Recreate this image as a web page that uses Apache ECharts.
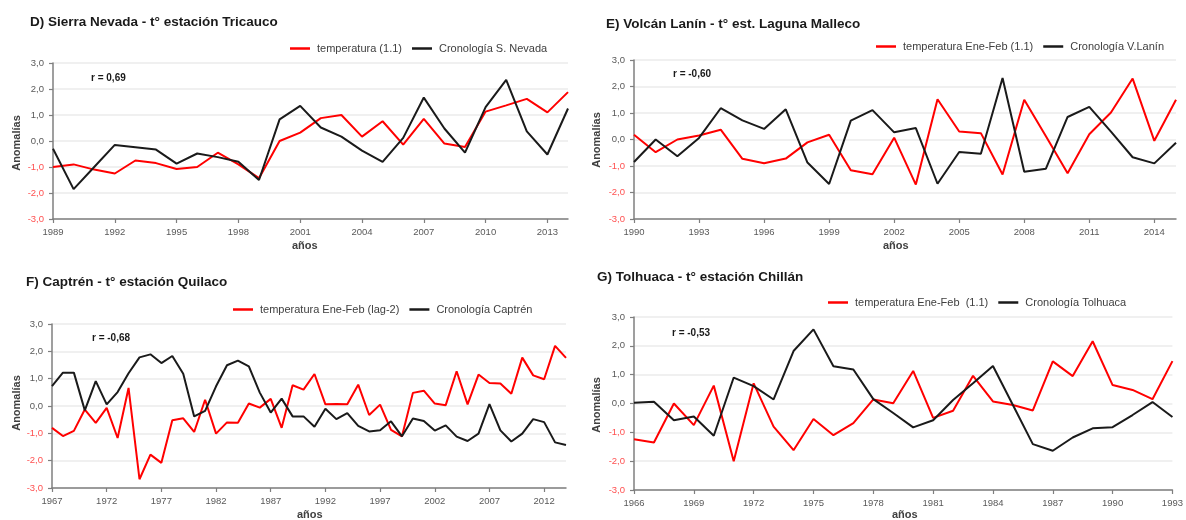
<!DOCTYPE html>
<html>
<head>
<meta charset="utf-8">
<script src="https://cdn.jsdelivr.net/npm/echarts@6/dist/echarts.min.js"></script>
<style>
html,body{margin:0;padding:0;background:#fff;}
#c{width:1186px;height:520px;}
</style>
</head>
<body>
<div id="c"></div>
<script>
// ---------- DATA ----------
function range(a, b) { var r = []; for (var y = a; y <= b; y++) r.push(String(y)); return r; }

var yearsD = range(1989, 2014);
var tempD = [-1.0, -0.9, -1.1, -1.25, -0.75, -0.85, -1.08, -1.0, -0.45, -0.9, -1.43, 0.0,
             0.32, 0.88, 1.0, 0.17, 0.76, -0.14, 0.85, -0.1, -0.23, 1.13, 1.37, 1.62, 1.1, 1.88];
var cronD = [-0.3, -1.85, -1.0, -0.15, -0.24, -0.33, -0.87, -0.48, -0.62, -0.8, -1.5, 0.83,
             1.35, 0.52, 0.17, -0.37, -0.8, 0.12, 1.67, 0.48, -0.45, 1.3, 2.35, 0.37, -0.52, 1.25];

var yearsE = range(1990, 2015);
var tempE = [0.18, -0.48, 0.0, 0.15, 0.37, -0.73, -0.9, -0.72, -0.11, 0.18, -1.16, -1.31,
             0.07, -1.7, 1.52, 0.3, 0.24, -1.32, 1.5, 0.12, -1.27, 0.2, 1.02, 2.3, -0.05, 1.5];
var cronE = [-0.85, 0.0, -0.63, 0.06, 1.18, 0.72, 0.4, 1.14, -0.87, -1.68, 0.71, 1.11,
             0.27, 0.43, -1.67, -0.47, -0.54, 2.32, -1.22, -1.1, 0.85, 1.23, 0.3, -0.67, -0.9, -0.12];

var yearsF = range(1967, 2014);
var tempF = [-0.8, -1.1, -0.91, -0.13, -0.62, -0.07, -1.17, 0.66, -2.68, -1.78, -2.08, -0.52,
             -0.45, -0.95, 0.23, -1.01, -0.6, -0.61, 0.09, -0.06, 0.26, -0.8, 0.76, 0.6,
             1.17, 0.06, 0.07, 0.06, 0.78, -0.33, 0.05, -0.87, -1.11, 0.48, 0.56, 0.09,
             0.03, 1.27, 0.06, 1.15, 0.84, 0.82, 0.45, 1.77, 1.12, 0.98, 2.2, 1.76];
var cronF = [0.73, 1.22, 1.22, -0.16, 0.91, 0.06, 0.51, 1.2, 1.78, 1.89, 1.57, 1.83,
             1.18, -0.38, -0.18, 0.72, 1.49, 1.66, 1.45, 0.49, -0.24, 0.27, -0.38, -0.38,
             -0.76, -0.1, -0.48, -0.26, -0.73, -0.93, -0.89, -0.56, -1.11, -0.46, -0.55, -0.9,
             -0.71, -1.12, -1.28, -1.01, 0.07, -0.89, -1.3, -1.01, -0.48, -0.59, -1.33, -1.43];

var yearsG = range(1966, 1993);
var tempG = [-1.24, -1.35, 0.0, -0.75, 0.62, -2.0, 0.7, -0.8, -1.62, -0.54, -1.1, -0.68,
             0.14, 0.01, 1.13, -0.5, -0.25, 0.96, 0.07, -0.05, -0.24, 1.46, 0.95, 2.16,
             0.64, 0.47, 0.15, 1.47];
var cronG = [0.03, 0.06, -0.58, -0.45, -1.12, 0.9, 0.6, 0.14, 1.82, 2.57, 1.29, 1.18,
             0.15, -0.33, -0.83, -0.58, 0.12, 0.7, 1.3, -0.05, -1.41, -1.64, -1.18, -0.86,
             -0.82, -0.4, 0.05, -0.47];

var panels = [
  { title: 'D) Sierra Nevada - t° estación Tricauco', r: 'r = 0,69',
    tempName: 'temperatura (1.1)', cronName: 'Cronología S. Nevada',
    years: yearsD, temp: tempD, cron: cronD, step: 3 },
  { title: 'E) Volcán Lanín - t° est. Laguna Malleco', r: 'r = -0,60',
    tempName: 'temperatura Ene-Feb (1.1)', cronName: 'Cronología V.Lanín',
    years: yearsE, temp: tempE, cron: cronE, step: 3 },
  { title: 'F) Captrén - t° estación Quilaco', r: 'r = -0,68',
    tempName: 'temperatura Ene-Feb (lag-2)', cronName: 'Cronología Captrén',
    years: yearsF, temp: tempF, cron: cronF, step: 5 },
  { title: 'G) Tolhuaca - t° estación Chillán', r: 'r = -0,53',
    tempName: 'temperatura Ene-Feb  (1.1)', cronName: 'Cronología Tolhuaca',
    years: yearsG, temp: tempG, cron: cronG, step: 3 }
];

// ---------- LAYOUT (pixels) ----------
var layout = [
  { grid: {left: 53, top: 63, width: 515, height: 156}, titleX: 30, titleY: 23, rX: 91, rY: 79,
    legX: 290, legY: 43, yLabX: 17, yLabY: 143, xNameX: 292, xNameY: 247 },
  { grid: {left: 634, top: 60, width: 542, height: 159}, titleX: 606, titleY: 25, rX: 673, rY: 75,
    legX: 876, legY: 41, yLabX: 597, yLabY: 140, xNameX: 883, xNameY: 247 },
  { grid: {left: 52, top: 324, width: 514, height: 164}, titleX: 26, titleY: 283, rX: 92, rY: 339,
    legX: 233, legY: 304, yLabX: 17, yLabY: 403, xNameX: 297, xNameY: 516 },
  { grid: {left: 634, top: 317, width: 541, height: 173}, titleX: 597, titleY: 278, rX: 672, rY: 334,
    legX: 828, legY: 297, yLabX: 597, yLabY: 405, xNameX: 892, xNameY: 516 }
];

var FONT = '"Liberation Sans", Arial, sans-serif';
var RED = '#ff0000', BLACK = '#1a1a1a', AXIS = '#7f7f7f';

var option = {
  backgroundColor: '#fff',
  animation: false,
  textStyle: { fontFamily: FONT },
  grid: [], xAxis: [], yAxis: [], series: [], legend: [], graphic: []
};

panels.forEach(function (p, i) {
  var L = layout[i];
  option.grid.push(L.grid);
  option.xAxis.push({
    type: 'category', gridIndex: i, data: p.years, boundaryGap: false, position: 'bottom',
    axisLine: { onZero: false, lineStyle: { color: AXIS, width: 1.5 } },
    axisTick: { show: true, interval: p.step - 1, length: 4, lineStyle: { color: AXIS, width: 1.2 } },
    axisLabel: { interval: p.step - 1, color: '#595959', fontSize: 9.5, margin: 8, fontFamily: FONT },
    splitLine: { show: false }
  });
  option.yAxis.push({
    type: 'value', gridIndex: i, min: -3, max: 3, interval: 1,
    axisLine: { show: true, onZero: false, lineStyle: { color: AXIS, width: 1.5 } },
    axisTick: { show: true, length: 4, lineStyle: { color: AXIS, width: 1.2 } },
    axisLabel: {
      fontSize: 9.5, margin: 9, fontFamily: FONT,
      formatter: function (v) { return v.toFixed(1).replace('.', ','); },
      color: function (v) { return Number(v) < 0 ? '#ff5050' : '#595959'; }
    },
    splitLine: { show: true, lineStyle: { color: '#ebebeb', width: 1.5 } }
  });
  option.series.push({
    name: p.tempName, type: 'line', xAxisIndex: i, yAxisIndex: i, data: p.temp,
    symbol: 'none', lineStyle: { color: RED, width: 2 }, itemStyle: { color: RED }
  });
  option.series.push({
    name: p.cronName, type: 'line', xAxisIndex: i, yAxisIndex: i, data: p.cron,
    symbol: 'none', lineStyle: { color: BLACK, width: 2 }, itemStyle: { color: BLACK }
  });
  option.legend.push({
    data: [p.tempName, p.cronName], left: L.legX, top: L.legY, padding: 0,
    icon: 'rect', itemWidth: 20, itemHeight: 2.5, itemGap: 10,
    textStyle: { fontSize: 11, color: '#404040', fontFamily: FONT, padding: [0, 0, 0, 2] },
    selectedMode: false
  });
  option.graphic.push({
    type: 'text', left: L.titleX, top: L.titleY - 8,
    style: { text: p.title, font: 'bold 13.5px ' + FONT, fill: '#1a1a1a' }
  });
  option.graphic.push({
    type: 'text', left: L.rX, top: L.rY - 6,
    style: { text: p.r, font: 'bold 10px ' + FONT, fill: '#1a1a1a' }
  });
  option.graphic.push({
    type: 'text', x: L.yLabX, y: L.yLabY, rotation: Math.PI / 2,
    style: { text: 'Anomalías', font: 'bold 11px ' + FONT, fill: '#404040',
             textAlign: 'center', textVerticalAlign: 'middle' }
  });
  option.graphic.push({
    type: 'text', left: L.xNameX, top: L.xNameY - 7,
    style: { text: 'años', font: 'bold 11px ' + FONT, fill: '#404040' }
  });
});

var chart = echarts.init(document.getElementById('c'), null, { renderer: 'canvas' });
chart.setOption(option);
</script>
</body>
</html>
